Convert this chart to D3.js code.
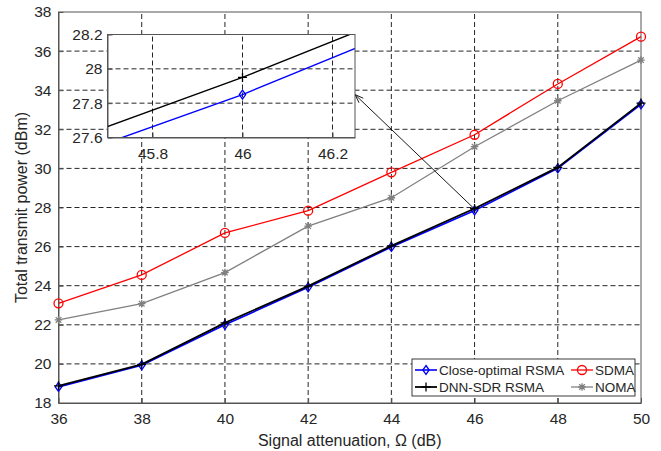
<!DOCTYPE html>
<html lang="en">
<head>
<meta charset="utf-8">
<title>Total transmit power vs signal attenuation</title>
<script src="https://cdn.jsdelivr.net/npm/d3@7"></script>
<style>
  body { margin: 0; background: #fff; }
  svg text { font-family: "Liberation Sans", Arial, sans-serif; fill: #262626; }
  .grid line { stroke: #262626; stroke-width: 1; stroke-dasharray: 5,3; }
  .axis path, .axis line { stroke: #555; }
</style>
</head>
<body>
<script>
// data
var attenuation = [36, 38, 40, 42, 44, 46, 48, 50];
var closeOptimal = [18.82, 19.93, 22.0, 23.92, 25.98, 27.85, 30.0, 33.28];
var dnnSdr = [18.88, 19.98, 22.1, 23.98, 26.04, 27.95, 30.05, 33.34];
var sdma = [23.1, 24.55, 26.7, 27.84, 29.8, 31.72, 34.32, 36.74];
var noma = [22.25, 23.08, 24.67, 27.05, 28.5, 31.11, 33.46, 35.54];

var xTicks = [36, 38, 40, 42, 44, 46, 48, 50];
var yTicks = [18, 20, 22, 24, 26, 28, 30, 32, 34, 36, 38];
var insetXTicks = [45.8, 46, 46.2];
var insetYTicks = [27.6, 27.8, 28, 28.2];

var series = [
  {name: "Close-optimal RSMA", values: closeOptimal, color: "#0000ff", marker: "diamond", width: 1.6},
  {name: "DNN-SDR RSMA", values: dnnSdr, color: "#000000", marker: "plus", width: 1.8},
  {name: "SDMA", values: sdma, color: "#ff0000", marker: "circle", width: 1.3},
  {name: "NOMA", values: noma, color: "#808080", marker: "star", width: 1.3}
];
var legendOrder = ["Close-optimal RSMA", "SDMA", "DNN-SDR RSMA", "NOMA"];

var w = 661, h = 451;
var svg = d3.select("body").append("svg").attr("width", w).attr("height", h);

var x = d3.scaleLinear().domain([36, 50]).range([58.5, 641]);
var y = d3.scaleLinear().domain([18, 38]).range([403, 12]);

function drawMarker(g, type, cx, cy, color) {
  if (type == "diamond") {
    g.append("path")
      .attr("d", "M" + cx + "," + (cy - 4.5) + "L" + (cx + 3.2) + "," + cy +
                 "L" + cx + "," + (cy + 4.5) + "L" + (cx - 3.2) + "," + cy + "Z")
      .attr("fill", "none").attr("stroke", color).attr("stroke-width", 1.3);
  } else if (type == "circle") {
    g.append("circle").attr("cx", cx).attr("cy", cy).attr("r", 4.5)
      .attr("fill", "none").attr("stroke", color).attr("stroke-width", 1.3);
  } else if (type == "plus") {
    g.append("path")
      .attr("d", "M" + (cx - 4.5) + "," + cy + "h9M" + cx + "," + (cy - 4.5) + "v9")
      .attr("stroke", color).attr("stroke-width", 1.3);
  } else if (type == "star") {
    var r = 3.8, d = 2.8;
    g.append("path")
      .attr("d", "M" + (cx - r) + "," + cy + "h" + (2 * r) + "M" + cx + "," + (cy - r) + "v" + (2 * r) +
                 "M" + (cx - d) + "," + (cy - d) + "l" + (2 * d) + "," + (2 * d) +
                 "M" + (cx - d) + "," + (cy + d) + "l" + (2 * d) + "," + (-2 * d))
      .attr("stroke", color).attr("stroke-width", 1.3);
  }
}

// grid
var grid = svg.append("g").attr("class", "grid");
grid.selectAll(".gx").data(xTicks.slice(1, -1)).enter().append("line")
  .attr("x1", function (d) { return x(d); }).attr("x2", function (d) { return x(d); })
  .attr("y1", y(18)).attr("y2", y(38));
grid.selectAll(".gy").data(yTicks.slice(1, -1)).enter().append("line")
  .attr("y1", function (d) { return y(d); }).attr("y2", function (d) { return y(d); })
  .attr("x1", x(36)).attr("x2", x(50));

// axes
svg.append("g").attr("class", "axis")
  .attr("transform", "translate(0," + y(18) + ")")
  .call(d3.axisBottom(x).tickValues(xTicks).tickSizeInner(-5).tickSizeOuter(0).tickPadding(10));
svg.append("g").attr("class", "axis")
  .attr("transform", "translate(" + x(36) + ",0)")
  .call(d3.axisLeft(y).tickValues(yTicks).tickSizeInner(-5).tickSizeOuter(0).tickPadding(7));
svg.selectAll(".axis text").attr("font-size", 15.5).attr("font-family", null).style("fill", "#262626");
svg.append("rect").attr("x", x(36)).attr("y", y(38))
  .attr("width", x(50) - x(36)).attr("height", y(18) - y(38))
  .attr("fill", "none").attr("stroke", "#555").attr("stroke-width", 1);

// lines and markers
var line = d3.line()
  .x(function (d, i) { return x(attenuation[i]); })
  .y(function (d) { return y(d); });
series.forEach(function (s) {
  var g = svg.append("g");
  g.append("path").attr("d", line(s.values))
    .attr("fill", "none").attr("stroke", s.color).attr("stroke-width", s.width);
  s.values.forEach(function (v, i) {
    drawMarker(g, s.marker, x(attenuation[i]), y(v), s.color);
  });
});

// axis titles
svg.append("text").attr("x", (x(36) + x(50)) / 2).attr("y", 446)
  .attr("text-anchor", "middle").attr("font-size", 16)
  .text("Signal attenuation, \u03A9 (dB)");
svg.append("text").attr("transform", "translate(27," + ((y(18) + y(38)) / 2) + ") rotate(-90)")
  .attr("text-anchor", "middle").attr("font-size", 16)
  .text("Total transmit power (dBm)");

// inset zoom
var ix = d3.scaleLinear().domain([45.7, 46.25]).range([107.5, 355]);
var iy = d3.scaleLinear().domain([27.6, 28.2]).range([137.5, 34.5]);

// arrow from the point at 46 to the inset
var ax0 = x(46), ay0 = y(27.92), ax1 = ix(46.25), ay1 = iy(27.85);
svg.append("line").attr("x1", ax0).attr("y1", ay0).attr("x2", ax1).attr("y2", ay1)
  .attr("stroke", "#000").attr("stroke-width", 0.9);
var ang = Math.atan2(ay0 - ay1, ax0 - ax1);
[0.35, -0.35].forEach(function (da) {
  svg.append("line").attr("x1", ax1).attr("y1", ay1)
    .attr("x2", ax1 + 9 * Math.cos(ang + da)).attr("y2", ay1 + 9 * Math.sin(ang + da))
    .attr("stroke", "#000").attr("stroke-width", 0.9);
});

var inset = svg.append("g");
inset.append("rect").attr("x", ix(45.7)).attr("y", iy(28.2))
  .attr("width", ix(46.25) - ix(45.7)).attr("height", iy(27.6) - iy(28.2))
  .attr("fill", "#fff");
svg.append("clipPath").attr("id", "insetClip").append("rect")
  .attr("x", ix(45.7)).attr("y", iy(28.2))
  .attr("width", ix(46.25) - ix(45.7)).attr("height", iy(27.6) - iy(28.2));
var igrid = inset.append("g").attr("class", "grid");
igrid.selectAll(".gx").data(insetXTicks).enter().append("line")
  .attr("x1", function (d) { return ix(d); }).attr("x2", function (d) { return ix(d); })
  .attr("y1", iy(27.6)).attr("y2", iy(28.2));
igrid.selectAll(".gy").data(insetYTicks).enter().append("line")
  .attr("y1", function (d) { return iy(d); }).attr("y2", function (d) { return iy(d); })
  .attr("x1", ix(45.7)).attr("x2", ix(46.25));
inset.append("g").attr("class", "axis")
  .attr("transform", "translate(0," + iy(27.6) + ")")
  .call(d3.axisBottom(ix).tickValues(insetXTicks).tickFormat(d3.format("")).tickSizeInner(-5).tickSizeOuter(0).tickPadding(10));
inset.append("g").attr("class", "axis")
  .attr("transform", "translate(" + ix(45.7) + ",0)")
  .call(d3.axisLeft(iy).tickValues(insetYTicks).tickFormat(d3.format("")).tickSizeInner(-5).tickSizeOuter(0).tickPadding(5));
inset.selectAll(".axis text").attr("font-size", 15.5).attr("font-family", null).style("fill", "#262626");

var iline = d3.line()
  .x(function (d, i) { return ix(attenuation[i]); })
  .y(function (d) { return iy(d); });
var plot = inset.append("g").attr("clip-path", "url(#insetClip)");
series.slice(0, 2).forEach(function (s) {
  plot.append("path").attr("d", iline(s.values))
    .attr("fill", "none").attr("stroke", s.color).attr("stroke-width", 1.4);
  s.values.forEach(function (v, i) {
    drawMarker(plot, s.marker, ix(attenuation[i]), iy(v), s.color);
  });
});
inset.append("rect").attr("x", ix(45.7)).attr("y", iy(28.2))
  .attr("width", ix(46.25) - ix(45.7)).attr("height", iy(27.6) - iy(28.2))
  .attr("fill", "none").attr("stroke", "#555").attr("stroke-width", 1);

// legend
var lg = svg.append("g");
lg.append("rect").attr("x", 412).attr("y", 359).attr("width", 223).attr("height", 37)
  .attr("fill", "#fff").attr("stroke", "#262626").attr("stroke-width", 0.9);
legendOrder.forEach(function (name, k) {
  var s = series.filter(function (d) { return d.name == name; })[0];
  var col = k % 2, row = Math.floor(k / 2);
  var lx = col == 0 ? 415 : 571;
  var ly = 370 + row * 17;
  lg.append("line").attr("x1", lx).attr("x2", lx + 22).attr("y1", ly).attr("y2", ly)
    .attr("stroke", s.color).attr("stroke-width", s.width);
  drawMarker(lg, s.marker, lx + 11, ly, s.color);
  lg.append("text").attr("x", lx + 24).attr("y", ly + 5).attr("font-size", 13.5).text(name);
});
</script>
</body>
</html>
